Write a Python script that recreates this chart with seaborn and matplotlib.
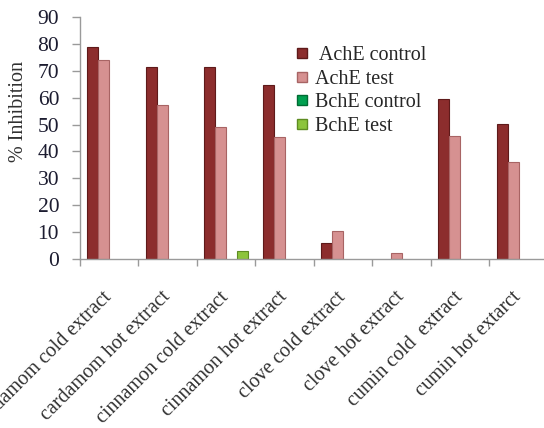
import numpy as np
import pandas as pd
import matplotlib
matplotlib.use("Agg")
import matplotlib.pyplot as plt
import seaborn as sns
from matplotlib.lines import Line2D

categories = ["cardamom cold extract", "cardamom hot extract", "cinnamon cold extract",
              "cinnamon hot extract", "clove cold extract", "clove hot extract",
              "cumin cold  extract", "cumin hot extarct"]
series_names = ["AchE control", "AchE test", "BchE control", "BchE test"]
ache_control = [79.0, 71.5, 71.5, 64.7, 5.9, 0.0, 59.7, 50.4]
ache_test = [74.0, 57.4, 49.1, 45.4, 10.5, 2.1, 45.7, 36.2]
bche_control = [0.0, 0.0, 0.0, 0.0, 0.0, 0.0, 0.0, 0.0]
bche_test = [0.0, 0.0, 3.1, 0.0, 0.0, 0.0, 0.0, 0.0]
yticks = [0, 10, 20, 30, 40, 50, 60, 70, 80, 90]

colors = ["#8C2D2D", "#D69191", "#00A050", "#8CC43C"]
edges = ["#5E1A1A", "#A86464", "#006B33", "#5E8C22"]

rows = []
for name, vals in zip(series_names, [ache_control, ache_test, bche_control, bche_test]):
    for c, v in zip(categories, vals):
        rows.append({"category": c, "series": name, "value": v})
df = pd.DataFrame(rows)

sns.set_theme(style="white")
plt.rcParams["font.family"] = ["Liberation Serif", "DejaVu Serif"]

fig = plt.figure(figsize=(5.44, 4.28), dpi=100)
ax = fig.add_axes([0.147, 0.395, 0.86, 0.565])

sns.barplot(data=df, x="category", y="value", hue="series", order=categories,
            hue_order=series_names, palette=colors, width=0.75, ax=ax,
            legend=False, saturation=1, errorbar=None)

# style bars
for i, cont in enumerate(ax.containers):
    for p in cont.patches:
        if p.get_height() <= 0:
            p.set_linewidth(0)
            p.set_visible(False)
        else:
            p.set_edgecolor(edges[i])
            p.set_linewidth(0.8)

ax.set_ylim(0, 90)
ax.set_xlim(-0.5, 7.5)
ax.set_yticks(yticks)
ax.set_yticklabels([str(t) for t in yticks], fontsize=15.5, color="#1c1c30")
ax.tick_params(axis="y", length=6, width=1, color="#9a9a9a", pad=9, direction="out", left=True)

ax.set_xticks(range(len(categories)))
ax.set_xticklabels(categories, rotation=45, ha="right", va="center",
                   rotation_mode="anchor", fontsize=14.5, color="#303030")
ax.tick_params(axis="x", length=0, pad=25.5)
ax.set_xticks(np.arange(-0.5, len(categories) + 0.5, 1), minor=True)
ax.tick_params(axis="x", which="minor", length=5, width=1, color="#9a9a9a", bottom=True, direction="out")

ax.set_xlabel("")
ax.set_ylabel("% Inhibition", fontsize=14.5, color="#303030")
ax.yaxis.set_label_coords(-0.111, 0.61)

for s in ["top", "right"]:
    ax.spines[s].set_visible(False)
for s in ["left", "bottom"]:
    ax.spines[s].set_color("#9a9a9a")
    ax.spines[s].set_linewidth(1)

handles = [Line2D([0], [0], marker="s", linestyle="", markersize=7,
                  markerfacecolor=colors[i], markeredgecolor=edges[i]) for i in range(4)]
labels = [" AchE control", "AchE test", "BchE control", "BchE test"]
fig.legend(handles, labels, loc="upper left", bbox_to_anchor=(0.543, 0.893),
           frameon=False, fontsize=14.5, handlelength=0.7, handletextpad=0.25,
           labelspacing=0.23, borderpad=0, borderaxespad=0)

fig.savefig("out.png", dpi=100)
